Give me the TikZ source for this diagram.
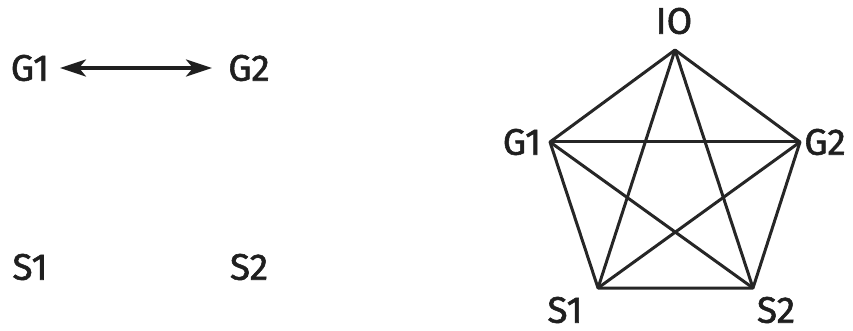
\documentclass[tikz,border=0pt]{standalone}
\usepackage{fontspec}
\newfontfamily\lblfont{Fira Sans}[FakeBold=1.5]
\usetikzlibrary{arrows.meta}
\begin{document}
\begin{tikzpicture}[x=1pt,y=-1pt,
  lbl/.style={font=\lblfont\fontsize{37}{40}\selectfont, text=black!88, inner sep=0pt},
  edge/.style={line width=3pt, black!85}]
\useasboundingbox (0,0) rectangle (853,331);
% left part
\node[lbl] (lg1) at (30,68) {G1};
\node[lbl] (lg2) at (249,68) {G2};
\node[lbl] (ls1) at (30,267) {S1};
\node[lbl] (ls2) at (249,267) {S2};
\draw[line width=3.4pt, black!88, {Stealth[length=26pt,width=17pt,inset=7pt]}-{Stealth[length=26pt,width=17pt,inset=7pt]}] (60,68) -- (212,68);
% right part
\coordinate (io) at (675,50);
\coordinate (g1) at (550,142);
\coordinate (g2) at (800,142);
\coordinate (s1) at (598,288);
\coordinate (s2) at (753,288);
\node[lbl] (tio) at (674,21) {IO};
\node[lbl] (tg1) at (522,142) {G1};
\node[lbl] (tg2) at (825,142) {G2};
\node[lbl] (ts1) at (565,310) {S1};
\node[lbl] (ts2) at (776,310) {S2};
\draw[edge, line join=round] (io) -- (g1) -- (s1) -- (s2) -- (g2) -- cycle;
\draw[edge] (io) -- (s1);
\draw[edge] (io) -- (s2);
\draw[edge] (g1) -- (g2);
\draw[edge] (g1) -- (s2);
\draw[edge] (g2) -- (s1);
\end{tikzpicture}
\end{document}
